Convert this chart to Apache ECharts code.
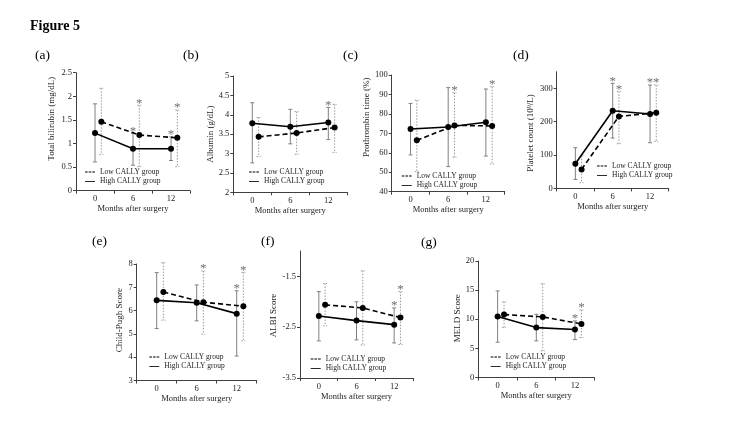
<!DOCTYPE html>
<html>
<head>
<meta charset="utf-8">
<script src="https://cdn.jsdelivr.net/npm/echarts@6/dist/echarts.min.js"></script>
<style>
html, body { margin: 0; padding: 0; background: #fff; }
#fig5 { width: 750px; height: 422px; }
</style>
</head>
<body>
<div id="fig5"></div>
<script>
// high CALLY points sit on the month, low CALLY ones are nudged 1 month right
const monthsHigh = [0, 6, 12];
const monthsLow = [1, 7, 13];
const monthLabels = [0, 6, 12];

// (a) total bilirubin
const tbilHigh = [1.22, 0.89, 0.89];
const tbilHighErr = [[0.61, 1.84], [0.54, 1.22], [0.64, 1.14]];
const tbilLow = [1.46, 1.18, 1.12];
const tbilLowErr = [[0.77, 2.17], [0.51, 1.81], [0.51, 1.71]];
const tbilStarHigh = [0, 1, 1];
const tbilStarLow = [0, 1, 1];
const tbilTicks = [0, 0.5, 1, 1.5, 2, 2.5];

// (b) albumin
const albHigh = [3.78, 3.69, 3.80];
const albHighErr = [[2.76, 4.31], [3.25, 4.14], [3.36, 4.19]];
const albLow = [3.43, 3.53, 3.67];
const albLowErr = [[2.92, 3.93], [2.98, 4.08], [3.03, 4.27]];
const albStarHigh = [0, 0, 1];
const albStarLow = [0, 0, 0];
const albTicks = [2, 2.5, 3, 3.5, 4, 4.5, 5];

// (c) prothrombin time
const ptHigh = [72.2, 73.3, 75.7];
const ptHighErr = [[58.9, 85.4], [52.9, 93.5], [58.3, 92.8]];
const ptLow = [66.4, 74.1, 73.8];
const ptLowErr = [[50.3, 87.0], [57.7, 90.9], [54.2, 94.0]];
const ptStarHigh = [0, 0, 0];
const ptStarLow = [0, 1, 1];
const ptTicks = [40, 50, 60, 70, 80, 90, 100];

// (d) platelet count
const pltHigh = [74, 233, 223];
const pltHighErr = [[27, 122], [151, 315], [137, 310]];
const pltLow = [57, 216, 227];
const pltLowErr = [[17, 98], [134, 291], [141, 310]];
const pltStarHigh = [0, 1, 1];
const pltStarLow = [0, 1, 1];
const pltTicks = [0, 100, 200, 300];

// (e) Child-Pugh
const cpHigh = [6.44, 6.34, 5.87];
const cpHighErr = [[5.23, 7.63], [5.56, 7.10], [4.05, 6.85]];
const cpLow = [6.80, 6.36, 6.19];
const cpLowErr = [[5.59, 8.06], [4.99, 7.70], [4.70, 7.64]];
const cpStarHigh = [0, 0, 1];
const cpStarLow = [0, 1, 1];
const cpTicks = [3, 4, 5, 6, 7, 8];

// (f) ALBI
const albiHigh = [-2.28, -2.37, -2.45];
const albiHighErr = [[-2.77, -1.80], [-2.75, -2.00], [-2.81, -2.12]];
const albiLow = [-2.06, -2.12, -2.31];
const albiLowErr = [[-2.47, -1.64], [-2.85, -1.39], [-2.84, -1.80]];
const albiStarHigh = [0, 0, 1];
const albiStarLow = [0, 0, 1];
const albiTicks = [-3.5, -2.5, -1.5];

// (g) MELD
const meldHigh = [10.46, 8.57, 8.23];
const meldHighErr = [[6.06, 14.86], [6.29, 10.86], [6.51, 9.71]];
const meldLow = [10.8, 10.4, 9.2];
const meldLowErr = [[8.57, 13.0], [4.57, 16.1], [6.86, 11.6]];
const meldStarHigh = [0, 0, 1];
const meldStarLow = [0, 0, 1];
const meldTicks = [0, 5, 10, 15, 20];

const SERIF = 'Liberation Serif';
const LOW_NAME = 'Low CALLY group';
const HIGH_NAME = 'High CALLY group';

// layout of each small chart (pixels)
const panels = [
  { tag: '(a)', tagAt: [35, 55], box: [76, 72.7, 114, 118], yMin: 0, yMax: 2.5, ticks: tbilTicks,
    yName: 'Total bilirubin (mg/dL)', gap: 19.5, shift: 13, leg: [85, 171.7],
    high: tbilHigh, highErr: tbilHighErr, low: tbilLow, lowErr: tbilLowErr, sH: tbilStarHigh, sL: tbilStarLow },
  { tag: '(b)', tagAt: [183, 55], box: [233.3, 76, 114, 116.3], yMin: 2, yMax: 5, ticks: albTicks,
    yName: 'Albumin (g/dL)', gap: 17, shift: 0, leg: [249, 172],
    high: albHigh, highErr: albHighErr, low: albLow, lowErr: albLowErr, sH: albStarHigh, sL: albStarLow },
  { tag: '(c)', tagAt: [343, 55], box: [391.7, 75, 113, 116.7], yMin: 40, yMax: 100, ticks: ptTicks,
    yName: 'Prothrombin time (%)', gap: 17, shift: 16, leg: [401.7, 176],
    high: ptHigh, highErr: ptHighErr, low: ptLow, lowErr: ptLowErr, sH: ptStarHigh, sL: ptStarLow },
  { tag: '(d)', tagAt: [513, 55], box: [556.7, 71.7, 112, 116.7], yMin: 0, yMax: 350, ticks: pltTicks,
    yName: 'Platelet count (10\u2079/L)', gap: 22, shift: -3, leg: [597, 165.7],
    high: pltHigh, highErr: pltHighErr, low: pltLow, lowErr: pltLowErr, sH: pltStarHigh, sL: pltStarLow },
  { tag: '(e)', tagAt: [92, 241], box: [136.7, 264, 120, 116.5], yMin: 3, yMax: 8, ticks: cpTicks,
    yName: 'Child-Pugh Score', gap: 10.5, shift: 2, leg: [149.3, 356.7],
    high: cpHigh, highErr: cpHighErr, low: cpLow, lowErr: cpLowErr, sH: cpStarHigh, sL: cpStarLow },
  { tag: '(f)', tagAt: [261, 241], box: [300, 251, 113, 127], yMin: -3.5, yMax: -1, ticks: albiTicks,
    yName: 'ALBI Score', gap: 21.5, shift: -1, leg: [310.7, 359],
    high: albiHigh, highErr: albiHighErr, low: albiLow, lowErr: albiLowErr, sH: albiStarHigh, sL: albiStarLow },
  { tag: '(g)', tagAt: [421, 242], box: [478.3, 261, 116, 116.5], yMin: 0, yMax: 20, ticks: meldTicks,
    yName: 'MELD Score', gap: 13, shift: 1, leg: [490.7, 356.7],
    high: meldHigh, highErr: meldHighErr, low: meldLow, lowErr: meldLowErr, sH: meldStarHigh, sL: meldStarLow }
];

const dashIcon = 'path://M0,0h3.2v1h-3.2zM4.4,0h3.2v1h-3.2zM8.8,0h3.2v1h-3.2z';
const solidIcon = 'path://M0,0h12v1h-12z';

// error bar with caps, plus the significance star when flagged
function errorBar(dotted) {
  const color = dotted ? '#9a9a9a' : '#808080';
  return function (params, api) {
    const x = api.value(0);
    const top = api.coord([x, api.value(2)]);
    const bot = api.coord([x, api.value(1)]);
    const st = { stroke: color, lineWidth: 1, lineDash: dotted ? [1.5, 1.5] : null };
    const kids = [
      { type: 'line', shape: { x1: top[0], y1: top[1], x2: bot[0], y2: bot[1] }, style: st },
      { type: 'line', shape: { x1: top[0] - 2, y1: top[1], x2: top[0] + 2, y2: top[1] }, style: st },
      { type: 'line', shape: { x1: bot[0] - 2, y1: bot[1], x2: bot[0] + 2, y2: bot[1] }, style: st }
    ];
    if (api.value(3)) {
      kids.push({ type: 'text', style: { text: '*', x: top[0], y: top[1] - 2, align: 'center',
        verticalAlign: 'middle', font: '13px ' + SERIF, fill: '#707070' } });
    }
    return { type: 'group', children: kids };
  };
}

const title = [{ text: 'Figure 5', left: 30, top: 19, padding: 0,
  textStyle: { fontSize: 14, fontWeight: 'bold', fontFamily: SERIF, color: '#000' } }];
const grid = [], xAxis = [], yAxis = [], series = [], legend = [];

panels.forEach(function (p, i) {
  title.push({ text: p.tag, left: p.tagAt[0], top: p.tagAt[1] - 7, padding: 0,
    textStyle: { fontSize: 13.5, fontWeight: 'normal', fontFamily: SERIF, color: '#000' } });
  grid.push({ left: p.box[0], top: p.box[1], width: p.box[2], height: p.box[3] });
  xAxis.push({
    gridIndex: i, type: 'value', min: -3, max: 15, interval: 6,
    axisLine: { onZero: false, lineStyle: { color: '#404040', width: 1 } },
    axisTick: { customValues: [-3, 3, 9, 15], length: 3, lineStyle: { color: '#404040' } },
    axisLabel: { customValues: monthLabels, fontSize: 8.5, fontFamily: SERIF, color: '#222', margin: 4 },
    splitLine: { show: false },
    name: 'Months after surgery', nameLocation: 'middle', nameGap: 11,
    nameTextStyle: { fontSize: 8.5, fontFamily: SERIF, color: '#222' }
  });
  yAxis.push({
    gridIndex: i, type: 'value', min: p.yMin, max: p.yMax,
    axisLine: { show: true, onZero: false, lineStyle: { color: '#404040', width: 1 } },
    axisTick: { show: true, customValues: p.ticks, length: 3, lineStyle: { color: '#404040' } },
    axisLabel: { customValues: p.ticks, fontSize: 8.5, fontFamily: SERIF, color: '#222', margin: 4 },
    splitLine: { show: false },
    name: p.yName, nameLocation: 'middle', nameGap: p.gap,
    nameTextStyle: { fontSize: 9, fontFamily: SERIF, color: '#222',
      padding: p.shift > 0 ? [0, 0, 0, 2 * p.shift] : [0, -2 * p.shift, 0, 0] }
  });
  series.push({
    type: 'custom', name: 'errHigh', xAxisIndex: i, yAxisIndex: i, z: 1, silent: true,
    renderItem: errorBar(false), encode: { x: 0, y: [1, 2] },
    data: monthsHigh.map(function (m, k) { return [m, p.highErr[k][0], p.highErr[k][1], p.sH[k]]; })
  });
  series.push({
    type: 'custom', name: 'errLow', xAxisIndex: i, yAxisIndex: i, z: 1, silent: true,
    renderItem: errorBar(true), encode: { x: 0, y: [1, 2] },
    data: monthsLow.map(function (m, k) { return [m, p.lowErr[k][0], p.lowErr[k][1], p.sL[k]]; })
  });
  series.push({
    type: 'line', name: LOW_NAME, xAxisIndex: i, yAxisIndex: i, z: 3,
    symbol: 'circle', symbolSize: 6, color: '#000',
    lineStyle: { color: '#000', width: 1.6, type: [5, 3] },
    data: monthsLow.map(function (m, k) { return [m, p.low[k]]; })
  });
  series.push({
    type: 'line', name: HIGH_NAME, xAxisIndex: i, yAxisIndex: i, z: 3,
    symbol: 'circle', symbolSize: 6, color: '#000',
    lineStyle: { color: '#000', width: 1.6 },
    data: monthsHigh.map(function (m, k) { return [m, p.high[k]]; })
  });
  legend.push({
    left: p.leg[0], top: Math.round(p.leg[1] - 4), orient: 'vertical', padding: 0, itemGap: 1.5,
    itemWidth: 10, itemHeight: 2, selectedMode: false,
    itemStyle: { borderWidth: 0 },
    textStyle: { fontSize: 7.5, fontFamily: SERIF, color: '#222' },
    data: [{ name: LOW_NAME, icon: dashIcon }, { name: HIGH_NAME, icon: solidIcon }]
  });
});

const chart = echarts.init(document.getElementById('fig5'));
chart.setOption({
  backgroundColor: '#fff',
  animation: false,
  title: title,
  grid: grid,
  xAxis: xAxis,
  yAxis: yAxis,
  legend: legend,
  series: series
});
</script>
</body>
</html>
